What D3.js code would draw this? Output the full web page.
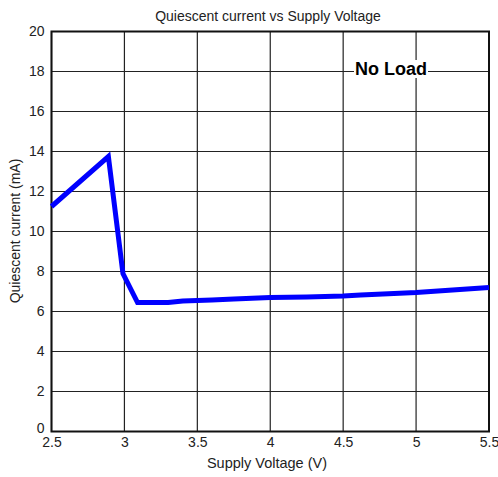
<!DOCTYPE html>
<html>
<head>
<meta charset="utf-8">
<script src="https://cdn.jsdelivr.net/npm/d3@7"></script>
<style>
  body { margin: 0; background: #fff; }
  svg { font-family: "Liberation Sans", Arial, sans-serif; }
</style>
</head>
<body>
<svg id="chart" width="498" height="477"></svg>
<script>
// Supply voltage (V) and quiescent current (mA), no load
const voltage = [2.5, 2.89, 2.99, 3.09, 3.3, 3.4, 3.6, 3.75, 4.0, 4.25, 4.5, 4.62, 5.0, 5.25, 5.5];
const current = [11.25, 13.75, 7.9, 6.45, 6.45, 6.53, 6.58, 6.62, 6.7, 6.72, 6.78, 6.83, 6.95, 7.08, 7.2];
const xTicks = [2.5, 3, 3.5, 4, 4.5, 5, 5.5];
const yTicks = [0, 2, 4, 6, 8, 10, 12, 14, 16, 18, 20];

const svg = d3.select("#chart");
const plotLeft = 51.5, plotRight = 489, plotTop = 31.5, plotBottom = 431.5;
const FONT = "'Liberation Sans', Arial, sans-serif";

const x = d3.scaleLinear().domain([2.5, 5.5]).range([plotLeft, plotRight]);
const y = d3.scaleLinear().domain([0, 20]).range([plotBottom, plotTop]);

// grid
svg.append("g").selectAll("line").data(xTicks).join("line")
  .attr("x1", d => x(d)).attr("x2", d => x(d))
  .attr("y1", plotTop).attr("y2", plotBottom)
  .attr("stroke", "#222").attr("stroke-width", 1.2);
svg.append("g").selectAll("line").data(yTicks).join("line")
  .attr("x1", plotLeft).attr("x2", plotRight)
  .attr("y1", d => y(d)).attr("y2", d => y(d))
  .attr("stroke", "#222").attr("stroke-width", 1.2);

// frame
svg.append("rect")
  .attr("x", plotLeft).attr("y", plotTop)
  .attr("width", plotRight - plotLeft).attr("height", plotBottom - plotTop)
  .attr("fill", "none").attr("stroke", "#111").attr("stroke-width", 2);

// tick labels
const yAxis = d3.axisLeft(y).tickValues(yTicks).tickSize(0).tickPadding(7).tickFormat(d3.format("d"));
svg.append("g").attr("transform", `translate(${plotLeft},0)`).call(yAxis)
  .call(g => g.select(".domain").remove())
  .call(g => g.selectAll("text").attr("font-size", 14).attr("fill", "#222").attr("font-family", FONT))
  .call(g => g.selectAll(".tick").filter(d => d === 0).select("text").attr("dy", "0.05em"));

const xAxis = d3.axisBottom(x).tickValues(xTicks).tickSize(0).tickPadding(6).tickFormat(d3.format("~g"));
svg.append("g").attr("transform", `translate(0,${plotBottom})`).call(xAxis)
  .call(g => g.select(".domain").remove())
  .call(g => g.selectAll("text").attr("font-size", 14).attr("fill", "#222").attr("font-family", FONT));

// curve
svg.append("path")
  .datum(voltage.map((v, i) => [v, current[i]]))
  .attr("d", d3.line().x(d => x(d[0])).y(d => y(d[1])))
  .attr("fill", "none").attr("stroke", "#0000ff").attr("stroke-width", 5)
  .attr("stroke-linejoin", "miter");

// annotation
const note = svg.append("g");
const noteText = note.append("text")
  .attr("x", 355).attr("y", 75)
  .attr("font-size", 18).attr("font-weight", "bold").attr("fill", "#000")
  .text("No Load");
const bb = noteText.node().getBBox();
note.insert("rect", "text")
  .attr("x", bb.x - 1).attr("y", bb.y + 1)
  .attr("width", bb.width + 2).attr("height", bb.height - 2)
  .attr("fill", "#fff");

// titles
svg.append("text").attr("x", 268).attr("y", 21).attr("text-anchor", "middle")
  .attr("font-size", 14).attr("fill", "#222")
  .text("Quiescent current vs Supply Voltage");
svg.append("text").attr("x", 267).attr("y", 468).attr("text-anchor", "middle")
  .attr("font-size", 14.5).attr("fill", "#222")
  .text("Supply Voltage (V)");
svg.append("text").attr("transform", "translate(20,231) rotate(-90)")
  .attr("text-anchor", "middle").attr("font-size", 14).attr("fill", "#222")
  .text("Quiescent current (mA)");
</script>
</body>
</html>
